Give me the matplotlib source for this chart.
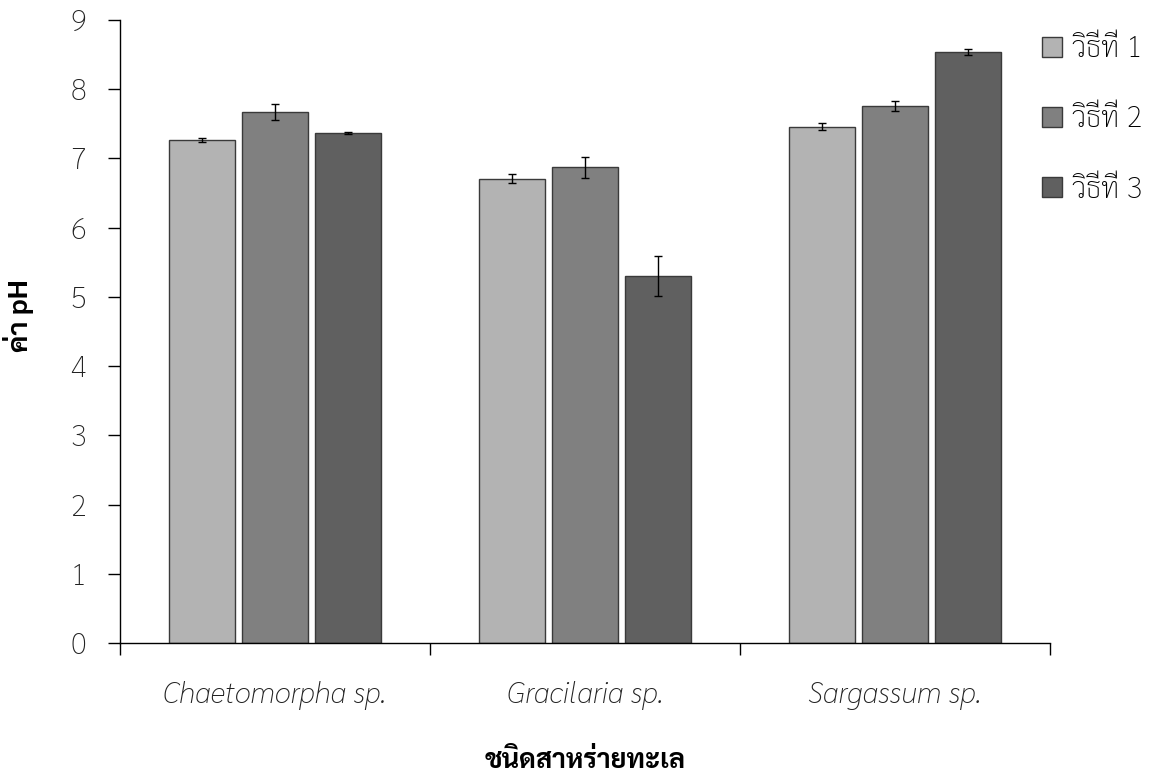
import matplotlib
matplotlib.use("Agg")
import matplotlib.pyplot as plt
from matplotlib.patches import Patch
import numpy as np

# pH of seaweed extracts by preparation method
species = ["Chaetomorpha sp.", "Gracilaria sp.", "Sargassum sp."]
methods = ["วิธีที่ 1", "วิธีที่ 2", "วิธีที่ 3"]
ph_method1 = [7.27, 6.71, 7.46]
ph_method2 = [7.67, 6.87, 7.76]
ph_method3 = [7.37, 5.30, 8.54]
err_method1 = [0.03, 0.07, 0.05]
err_method2 = [0.12, 0.15, 0.07]
err_method3 = [0.01, 0.29, 0.04]
y_ticks = [0, 1, 2, 3, 4, 5, 6, 7, 8, 9]

values = [ph_method1, ph_method2, ph_method3]
errors = [err_method1, err_method2, err_method3]
colors = ["#b3b3b3", "#808080", "#606060"]

FONT = ["Sarabun", "DejaVu Sans"]
plt.rcParams["font.family"] = FONT

fig = plt.figure(figsize=(11.56, 7.78), dpi=100)
ax = fig.add_axes([0.1038, 0.1735, 0.8045, 0.8008])

x = np.arange(len(species))
step = 0.235
width = 0.213
for i, (vals, errs, col) in enumerate(zip(values, errors, colors)):
    ax.bar(x + (i - 1) * step, vals, width, color=col, edgecolor="#3a3a3a",
           linewidth=1.0, zorder=2)
    ax.errorbar(x + (i - 1) * step, vals, yerr=errs, fmt="none",
                ecolor="black", elinewidth=1.0, capsize=3.2, capthick=1.0,
                zorder=3)

ax.set_xlim(-0.5, len(species) - 0.5)
ax.set_ylim(0, 9)
ax.set_yticks(y_ticks)
ax.set_yticklabels([str(t) for t in y_ticks], fontsize=21, fontweight="light",
                   color="#222222")

# category boundaries as major ticks, names centred as minor labels
ax.set_xticks(np.arange(-0.5, len(species), 1.0))
ax.set_xticklabels([])
ax.set_xticks(x, minor=True)
ax.set_xticklabels(species, minor=True, fontsize=21, style="italic",
                   fontweight="light", color="#222222")
ax.tick_params(axis="x", which="major", direction="out", length=8.5, width=1.0)
ax.tick_params(axis="x", which="minor", length=0, pad=27)
ax.tick_params(axis="y", direction="out", length=8.5, width=1.0, pad=16)

for side in ("top", "right"):
    ax.spines[side].set_visible(False)
for side in ("left", "bottom"):
    ax.spines[side].set_linewidth(1.0)

ax.set_ylabel("ค่า pH", fontsize=20, fontweight="bold")
ax.yaxis.set_label_coords(-0.093, 0.525)
ax.set_xlabel("ชนิดสาหร่ายทะเล", fontsize=19.5, fontweight="bold", labelpad=28)

handles = [Patch(facecolor=c, edgecolor="#3a3a3a", linewidth=1.0) for c in colors]
fig.legend(handles, methods, loc="upper left", bbox_to_anchor=(0.879, 0.989),
           frameon=False, prop={"size": 21, "weight": "light"},
           handlelength=0.68, handleheight=0.68, handletextpad=0.35,
           labelspacing=1.42)

fig.savefig("out.png", dpi=100)
